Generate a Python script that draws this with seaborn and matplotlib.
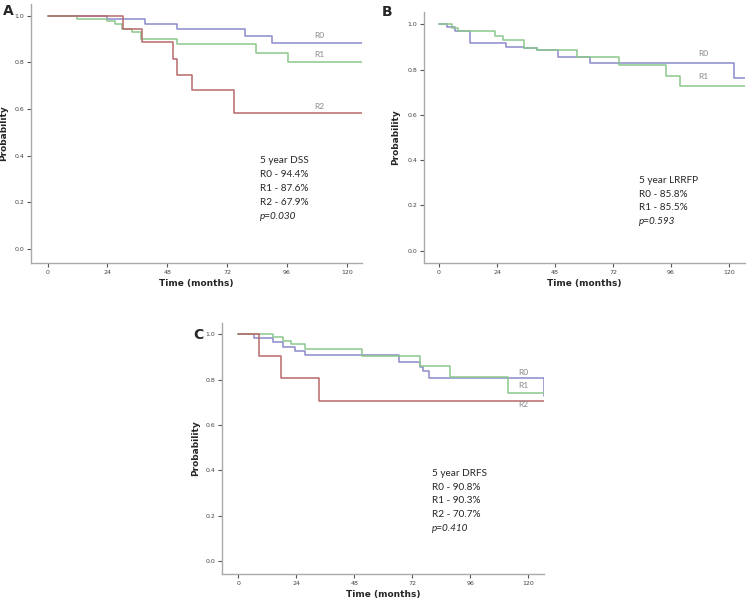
import pandas as pd
import matplotlib
matplotlib.use("Agg")
import matplotlib.pyplot as plt
import seaborn as sns

# Panel A - DSS
a_r0_t = [0, 24, 39, 52, 79, 90, 126]
a_r0_p = [1.0, 0.986, 0.964, 0.943, 0.914, 0.881, 0.881]
a_r1_t = [0, 11.6, 24, 27, 29.7, 33.7, 37.5, 51.8, 83.6, 96.3, 126]
a_r1_p = [1.0, 0.986, 0.979, 0.966, 0.943, 0.93, 0.901, 0.879, 0.84, 0.803, 0.803]
a_r2_t = [0, 30.4, 37.7, 50.4, 51.8, 58, 74.8, 126]
a_r2_p = [1.0, 0.943, 0.886, 0.814, 0.747, 0.68, 0.583, 0.583]

# Panel B - LRRFP
b_r0_t = [0, 3.2, 6.6, 12.8, 27.7, 35, 40.4, 49.4, 62.5, 122, 126.6]
b_r0_p = [1.0, 0.99, 0.97, 0.916, 0.901, 0.894, 0.887, 0.857, 0.83, 0.761, 0.761]
b_r1_t = [0, 5.5, 8, 23.2, 26.6, 35, 40.4, 57, 74.6, 94, 99.7, 126.6]
b_r1_p = [1.0, 0.985, 0.97, 0.95, 0.93, 0.894, 0.887, 0.857, 0.82, 0.772, 0.728, 0.728]

# Panel C - DRFS
c_r0_t = [0, 6.5, 14.5, 18.6, 23.4, 27.6, 66.6, 75.2, 76.3, 79, 126.5]
c_r0_p = [1.0, 0.982, 0.968, 0.946, 0.928, 0.909, 0.879, 0.857, 0.84, 0.806, 0.73]
c_r1_t = [0, 14.2, 18.6, 22, 27.6, 51, 75.4, 87.6, 111.7, 126.5]
c_r1_p = [1.0, 0.99, 0.972, 0.955, 0.935, 0.904, 0.862, 0.813, 0.74, 0.74]
c_r2_t = [0, 8.7, 17.5, 33.4, 126.5]
c_r2_p = [1.0, 0.906, 0.809, 0.706, 0.706]

x_ticks = [0, 24, 48, 72, 96, 120]
y_ticks = [0.0, 0.2, 0.4, 0.6, 0.8, 1.0]

text_a = ["5 year DSS", "R0 - 94.4%", "R1 - 87.6%", "R2 - 67.9%", "p=0.030"]
text_b = ["5 year LRRFP", "R0 - 85.8%", "R1 - 85.5%", "p=0.593"]
text_c = ["5 year DRFS", "R0 - 90.8%", "R1 - 90.3%", "R2 - 70.7%", "p=0.410"]

pal = {"R0": "#8a8acb", "R1": "#8cc88c", "R2": "#b86a6a"}


def make_df(curves):
    rows = []
    for g, (t, p) in curves.items():
        for ti, pi in zip(t, p):
            rows.append((g, ti, pi))
    return pd.DataFrame(rows, columns=["group", "time", "prob"])


sns.set_style("ticks")
plt.rcParams["font.family"] = ["DejaVu Sans"]

fig = plt.figure(figsize=(7.5, 6.04), dpi=100)
ax_a = fig.add_axes([0.0413, 0.5646, 0.441, 0.4288])
ax_b = fig.add_axes([0.5657, 0.564, 0.4276, 0.4166])
ax_c = fig.add_axes([0.2964, 0.0497, 0.4289, 0.416])

panels = [
    (ax_a, {"R0": (a_r0_t, a_r0_p), "R1": (a_r1_t, a_r1_p), "R2": (a_r2_t, a_r2_p)},
     (-6.7, 126), (-0.06, 1.05), text_a, (85.2, 0.40),
     {"R0": (109, 0.90), "R1": (109, 0.82), "R2": (109, 0.595)}, -0.068),
    (ax_b, {"R0": (b_r0_t, b_r0_p), "R1": (b_r1_t, b_r1_p)},
     (-6.1, 126.6), (-0.056, 1.056), text_b, (82.9, 0.33),
     {"R0": (109.4, 0.855), "R1": (109.4, 0.755)}, -0.075),
    (ax_c, {"R0": (c_r0_t, c_r0_p), "R1": (c_r1_t, c_r1_p), "R2": (c_r2_t, c_r2_p)},
     (-6.6, 126.5), (-0.057, 1.051), text_c, (80.3, 0.405),
     {"R0": (118, 0.815), "R1": (118, 0.758), "R2": (118, 0.676)}, -0.069),
]

for ax, curves, xl, yl, txt, tpos, lpos, ylx in panels:
    df = make_df(curves)
    sns.lineplot(data=df, x="time", y="prob", hue="group", palette=pal,
                 estimator=None, sort=False, drawstyle="steps-post",
                 linewidth=1.1, legend=False, ax=ax)
    ax.set_xlim(xl)
    ax.set_ylim(yl)
    ax.set_xticks(x_ticks)
    ax.set_yticks(y_ticks)
    ax.set_yticklabels([f"{v:.1f}" for v in y_ticks])
    ax.tick_params(labelsize=4.5, length=3, width=0.8, color="#555555",
                   labelcolor="#444444", pad=2)
    for s in ["top", "right"]:
        ax.spines[s].set_visible(False)
    for s in ["left", "bottom"]:
        ax.spines[s].set_color("#aaaaaa")
        ax.spines[s].set_linewidth(1.0)
    ax.set_xlabel("Time (months)", fontsize=6.5, fontweight="bold", labelpad=3)
    ax.set_ylabel("Probability", fontsize=6.5, fontweight="bold")
    ax.yaxis.set_label_coords(ylx, 0.5)
    for g, (lx, ly) in lpos.items():
        ax.text(lx, ly, g, fontsize=6, color="#888888", va="bottom", ha="center",
                family=["Lato", "DejaVu Sans"])
    for i, line in enumerate(txt):
        ax.text(tpos[0], tpos[1] - i * 0.06, line, fontsize=7.2, va="top", ha="left",
                style="italic" if line.startswith("p=") else "normal",
                family=["Lato", "DejaVu Sans"])

fig.text(0.004, 0.981, "A", fontsize=10, fontweight="bold", va="center")
fig.text(0.509, 0.980, "B", fontsize=10, fontweight="bold", va="center")
fig.text(0.257, 0.4454, "C", fontsize=10, fontweight="bold", va="center")

fig.savefig("out.png", dpi=100)
